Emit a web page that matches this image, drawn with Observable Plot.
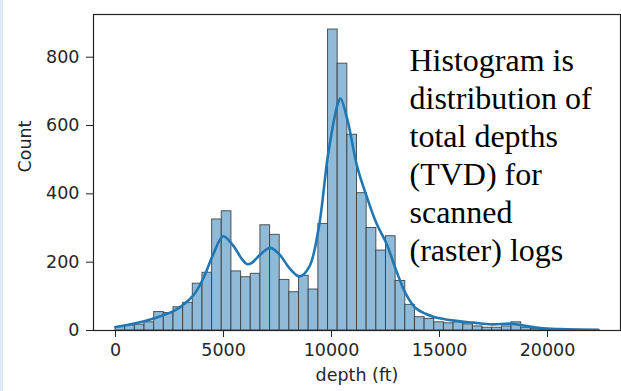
<!DOCTYPE html>
<html>
<head>
<meta charset="utf-8">
<script src="https://cdn.jsdelivr.net/npm/d3@7"></script>
<script src="https://cdn.jsdelivr.net/npm/@observablehq/plot@0.6"></script>
<style>
  html, body { margin: 0; padding: 0; background: #ffffff; }
  #wrap { position: relative; width: 621px; height: 391px; overflow: hidden; }
  #band { position: absolute; left: 0; top: 0; width: 3px; height: 391px; background: #dfeaf2; }
</style>
</head>
<body>
<div id="wrap"><div id="band"></div></div>
<script>
// Histogram counts (50 equal bins starting at 0 ft)
const binStart = 0;
const binWidth = 447.2;
const counts = [10,15,17,24,54,51,68,81,137,169,
                325,349,173,156,166,308,280,148,112,160,
                120,312,881,781,573,402,300,234,276,145,
                75,39,34,24,21,24,18,12,8,8,
                12,24,8,4,2,1,1,1,1,1];
// KDE curve (depth ft, count)
const kdeDepth = [0,926,1806,2731,3194,3643,4089,4537,4985,5432,5864,6096,6312,6744,7176,7626,8071,8519,8968,9414,9848,10293,10418,10742,11191,11636,12085,12548,12995,13441,13889,14352,14784,15664,16559,17440,18287,18750,19676,20602,22360];
const kdeCount = [10,21,36,58,78,106,156,225,276,250,208,194,198,225,242,220,181,158,186,303,518,664,679,615,479,391,313,254,176,107,66,49,39,29,23,18,20,16,7,4,2];
const xTicks = [0,5000,10000,15000,20000];
const yTicks = [0,200,400,600,800];
const annotation = "Histogram is\ndistribution of\ntotal depths\n(TVD) for\nscanned\n(raster) logs";

const bins = counts.map((c, i) => ({x1: binStart + i*binWidth, x2: binStart + (i+1)*binWidth, count: c}));
const kde = kdeDepth.map((d, i) => ({depth: d, count: kdeCount[i]}));

const chart = Plot.plot({
  width: 621,
  height: 391,
  marginLeft: 93,
  marginRight: 1,
  marginTop: 14,
  marginBottom: 61,
  style: {fontFamily: "DejaVu Sans", fontSize: "17.5px", color: "#262626", background: "transparent"},
  x: {domain: [-1020, 23380]},
  y: {domain: [0, 925]},
  marks: [
    Plot.rect(bins, {x1: "x1", x2: "x2", y1: 0, y2: "count", fill: "#8fbbd9", stroke: "#3a3a3a", strokeWidth: 1, strokeOpacity: 0.85, inset: 0}),
    Plot.line(kde, {x: "depth", y: "count", stroke: "#1f77b4", strokeWidth: 2.6, curve: "catmull-rom"}),
    Plot.frame({stroke: "#222", strokeWidth: 1.2}),
    Plot.axisX({ticks: xTicks, tickFormat: d3.format("d"), tickSize: 7, tickPadding: 6, label: null, stroke: "#222"}),
    Plot.axisY({ticks: yTicks, tickFormat: d3.format("d"), tickSize: 7, tickPadding: 7, label: null, stroke: "#222"}),
    Plot.text(["depth (ft)"], {frameAnchor: "bottom", dy: 50, fontSize: 17.5, fill: "#262626"}),
    Plot.text(["Count"], {frameAnchor: "left", dx: -68, rotate: -90, fontSize: 17.5, fill: "#262626"}),
    Plot.text([annotation], {frameAnchor: "top-left", dx: 316, dy: 29, textAnchor: "start", lineAnchor: "top", lineHeight: 1.19, fontSize: 32, fontFamily: "Liberation Serif", fill: "#000"})
  ]
});
document.getElementById("wrap").appendChild(chart);
</script>
</body>
</html>
